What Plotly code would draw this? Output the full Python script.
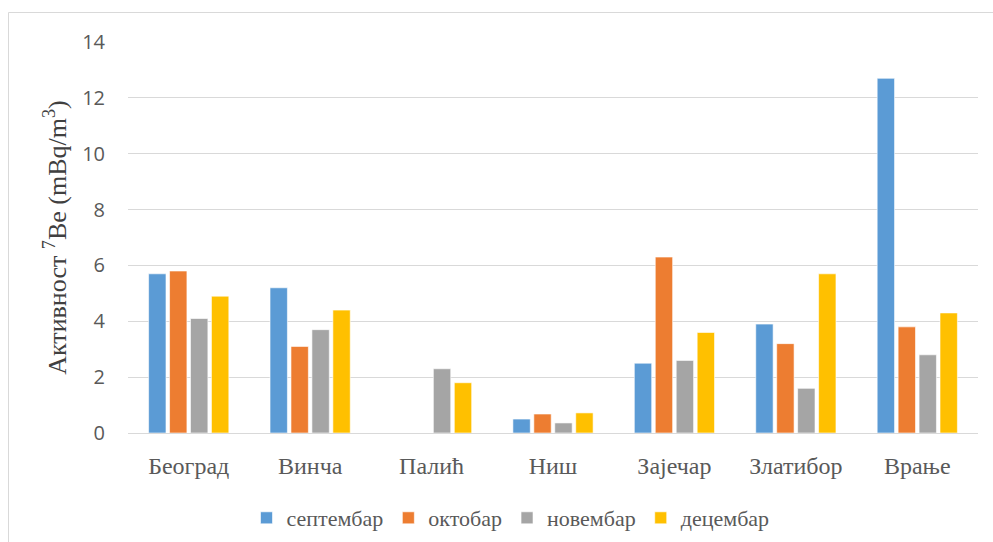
import plotly.graph_objects as go

categories = ["Београд", "Винча", "Палић", "Ниш", "Зајечар", "Златибор", "Врање"]
series_names = ["септембар", "октобар", "новембар", "децембар"]
septembar = [5.7, 5.2, None, 0.5, 2.5, 3.9, 12.7]
oktobar = [5.8, 3.1, None, 0.68, 6.3, 3.2, 3.8]
novembar = [4.1, 3.7, 2.3, 0.36, 2.6, 1.6, 2.8]
decembar = [4.9, 4.4, 1.8, 0.72, 3.6, 5.7, 4.3]
y_ticks = [0, 2, 4, 6, 8, 10, 12, 14]

colors = ["#5B9BD5", "#ED7D31", "#A5A5A5", "#FFC000"]
values = [septembar, oktobar, novembar, decembar]

fig = go.Figure()
for name, vals, col in zip(series_names, values, colors):
    fig.add_trace(go.Bar(
        x=categories, y=vals, name=name,
        marker=dict(color=col, line=dict(color="rgba(255,255,255,0.6)", width=1)),
    ))

L, R, T, B = 128, 15, 42, 109
W, H = 993, 542
pw, ph = W - L - R, H - T - B

fig.update_layout(
    width=W, height=H,
    margin=dict(l=L, r=R, t=T, b=B, autoexpand=False),
    paper_bgcolor="white", plot_bgcolor="white",
    barmode="group", bargap=0.31, bargroupgap=0.17,
    showlegend=True,
    legend=dict(
        orientation="h", x=0.45, xanchor="center", y=-(518 - 433) / ph, yanchor="middle",
        font=dict(family="Liberation Serif", size=22, color="#595959"),
        tracegroupgap=0, traceorder="normal",
    ),
    font=dict(family="Liberation Sans"),
)
fig.update_xaxes(
    showgrid=False, showline=False, zeroline=False, ticks="",
    ticklabelstandoff=16,
    tickfont=dict(family="Liberation Serif", size=24, color="#595959"),
)
fig.update_yaxes(
    range=[0, 14], tickvals=y_ticks, showgrid=True, gridcolor="#D9D9D9", gridwidth=1,
    zeroline=True, zerolinecolor="#D9D9D9", zerolinewidth=1, showline=False, ticks="",
    ticklabelstandoff=22,
    tickfont=dict(family="Open Sans", size=20, color="#595959"),
    title=dict(
        text="Активност <sup>7</sup>Be (mBq/m<sup>3</sup>)",
        font=dict(family="Liberation Serif", size=26, color="#404040"),
        standoff=8,
    ),
)

# outer chart border
fig.add_shape(
    type="rect", xref="paper", yref="paper",
    x0=(8.5 - L) / pw, x1=(W + 20 - L) / pw,
    y0=-(H + 20 - (H - B)) / ph, y1=(H - B - 12.5) / ph,
    line=dict(color="#D9D9D9", width=1), fillcolor="rgba(0,0,0,0)", layer="below",
)

fig.write_html("out.html")
